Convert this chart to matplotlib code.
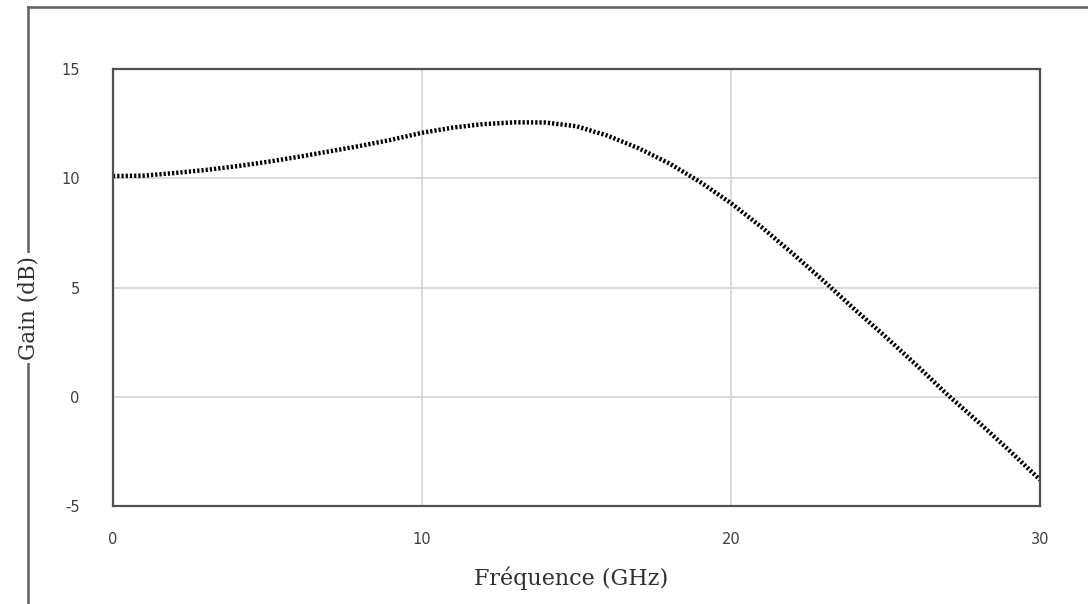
import matplotlib
matplotlib.use("Agg")
import matplotlib.pyplot as plt
from matplotlib.lines import Line2D

plt.rcParams["axes.unicode_minus"] = False

# Gain versus frequency
freq_ghz = [0, 1, 2, 3, 4, 5, 6, 7, 8, 9, 10, 11, 12, 13, 14, 15,
            16, 17, 18, 19, 20, 21, 22, 23, 24, 25, 26, 27, 28, 29, 30]
gain_db = [10.10, 10.12, 10.24, 10.38, 10.55, 10.75, 10.98, 11.23, 11.48,
           11.76, 12.08, 12.32, 12.48, 12.56, 12.55, 12.38, 11.95, 11.38,
           10.68, 9.83, 8.86, 7.75, 6.55, 5.30, 4.00, 2.75, 1.45, 0.10,
           -1.15, -2.45, -3.80]
x_ticks = [0, 10, 20, 30]
y_ticks = [-5, 0, 5, 10, 15]
x_label = "Fréquence (GHz)"
y_label = "Gain (dB)"

W, H = 1088, 604
fig = plt.figure(figsize=(W / 100, H / 100), dpi=100)
fig.patch.set_facecolor("white")

# outer frame (left and top edges only, the rest runs off the canvas)
frame_col = "#606060"
fig.add_artist(Line2D([28 / W, 28 / W], [0, 1 - 7 / H], color=frame_col,
                      lw=1.8, transform=fig.transFigure))
fig.add_artist(Line2D([28 / W, 1], [1 - 7 / H, 1 - 7 / H], color=frame_col,
                      lw=1.8, transform=fig.transFigure))

left, right, top, bottom = 113, 1040, 69, 506
ax = fig.add_axes([left / W, 1 - bottom / H, (right - left) / W,
                   (bottom - top) / H])
ax.set_xlim(0, 30)
ax.set_ylim(-5, 15)
ax.set_xticks(x_ticks)
ax.set_yticks(y_ticks)
ax.grid(True, color="#d4d4d4", lw=1.2)
ax.set_axisbelow(True)
for sp in ax.spines.values():
    sp.set_color("#505050")
    sp.set_linewidth(1.6)
ax.tick_params(length=0, labelsize=10.5, colors="#404040")
ax.tick_params(axis="x", pad=19)
ax.tick_params(axis="y", pad=24)

ax.plot(freq_ghz, gain_db, color="black", lw=3.2,
        linestyle=(0, (0.5, 0.45)), solid_capstyle="butt")

fig.text(571 / W, 1 - 578 / H, x_label, ha="center", va="center",
         family="DejaVu Serif", fontsize=16, color="#303030")
fig.text(28 / W, 1 - 308 / H, y_label, ha="center", va="center",
         rotation=90, family="DejaVu Serif", fontsize=15.5, color="#303030",
         bbox=dict(facecolor="white", edgecolor="none", pad=2))

fig.savefig("out.png", dpi=100)
